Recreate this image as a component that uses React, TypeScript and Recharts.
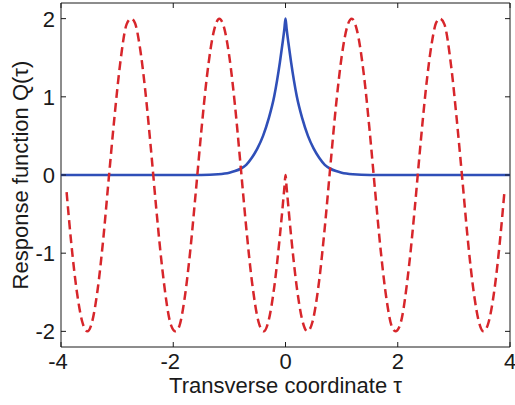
import { LineChart, Line, XAxis, YAxis, ReferenceArea } from "recharts";

// transverse coordinate tau and response Q(tau)
const blueTau = [
  -4, -3, -2, -1.5, -1.2, -1.0, -0.9, -0.8, -0.7, -0.6, -0.5, -0.4, -0.3, -0.2, -0.15, -0.1, -0.05, -0.02,
  0,
  0.02, 0.05, 0.1, 0.15, 0.2, 0.3, 0.4, 0.5, 0.6, 0.7, 0.8, 0.9, 1.0, 1.2, 1.5, 2, 3, 4,
];
const blueQ = [
  0, 0, 0, 0, 0.01, 0.03, 0.05, 0.08, 0.13, 0.22, 0.34, 0.5, 0.72, 1.01, 1.21, 1.44, 1.7, 1.87,
  2.0,
  1.87, 1.7, 1.44, 1.21, 1.01, 0.72, 0.5, 0.34, 0.22, 0.13, 0.08, 0.05, 0.03, 0.01, 0, 0, 0, 0,
];

const redTau = [
  -3.9, -3.82, -3.72, -3.62, -3.53, -3.45, -3.35, -3.25, -3.15, -3.05, -2.95, -2.83, -2.75, -2.68, -2.6,
  -2.5, -2.4, -2.3, -2.2, -2.04, -1.96, -1.89, -1.8, -1.7, -1.6, -1.5, -1.4, -1.27, -1.18, -1.1, -1.0,
  -0.9, -0.8, -0.7, -0.6, -0.48, -0.39, -0.3, -0.2, -0.1, -0.02,
  0,
  0.02, 0.1, 0.2, 0.3, 0.39, 0.48, 0.6, 0.7, 0.8, 0.9, 1.0, 1.1, 1.18, 1.27, 1.4, 1.5, 1.6, 1.7, 1.8,
  1.89, 1.96, 2.04, 2.2, 2.3, 2.4, 2.5, 2.6, 2.68, 2.75, 2.83, 2.95, 3.05, 3.15, 3.25, 3.35, 3.45, 3.53,
  3.62, 3.72, 3.82, 3.9,
];
const redQ = [
  -0.22, -0.85, -1.48, -1.88, -2.0, -1.89, -1.48, -0.84, -0.05, 0.72, 1.4, 1.93, 2.0, 1.94, 1.66,
  1.09, 0.35, -0.45, -1.17, -1.92, -2.0, -1.93, -1.59, -0.99, -0.23, 0.56, 1.26, 1.86, 2.0, 1.9, 1.51,
  0.89, 0.12, -0.67, -1.35, -1.88, -2.0, -1.86, -1.43, -0.78, -0.16,
  0,
  -0.16, -0.78, -1.43, -1.86, -2.0, -1.88, -1.35, -0.67, 0.12, 0.89, 1.51, 1.9, 2.0, 1.86, 1.26, 0.56, -0.23, -0.99, -1.59,
  -1.93, -2.0, -1.92, -1.17, -0.45, 0.35, 1.09, 1.66, 1.94, 2.0, 1.93, 1.4, 0.72, -0.05, -0.84, -1.48, -1.89, -2.0,
  -1.88, -1.48, -0.85, -0.22,
];

const xTicks = [-4, -2, 0, 2, 4];
const yTicks = [-2, -1, 0, 1, 2];

const blueData = blueTau.map((t, i) => ({ t, q: blueQ[i] }));
const redData = redTau.map((t, i) => ({ t, q: redQ[i] }));

const W = 515;
const H = 405;
const X_AXIS_H = 50;
const Y_AXIS_W = 50;
const M = { top: 3, right: 5, bottom: 58 - X_AXIS_H, left: 61 - Y_AXIS_W };
const PLOT_TOP = 3;
const PLOT_RIGHT = W - 5;
const FONT = '"Liberation Sans", Arial, sans-serif';
const INK = "#1a1a1a";

function XTick({ x, y, payload }: any) {
  const v = payload.value;
  return (
    <g>
      <line x1={x} y1={y} x2={x} y2={y - 5} stroke={INK} />
      <line x1={x} y1={PLOT_TOP} x2={x} y2={PLOT_TOP + 5} stroke={INK} />
      <text x={x} y={y + 22} dx={v < 0 ? -3 : 0} textAnchor="middle" fontSize={22} fontFamily={FONT} fill={INK}>
        {v}
      </text>
    </g>
  );
}

function YTick({ x, y, payload }: any) {
  return (
    <g>
      <line x1={x} y1={y} x2={x + 5} y2={y} stroke={INK} />
      <line x1={PLOT_RIGHT} y1={y} x2={PLOT_RIGHT - 5} y2={y} stroke={INK} />
      <text x={x - 6} y={y} dy="0.36em" textAnchor="end" fontSize={22} fontFamily={FONT} fill={INK}>
        {payload.value}
      </text>
    </g>
  );
}

export default function App() {
  return (
    <div style={{ position: "absolute", left: 0, top: 0, background: "#fff" }}>
      <LineChart width={W} height={H} margin={M}>
        <XAxis
          dataKey="t"
          type="number"
          domain={[-4, 4]}
          ticks={xTicks}
          allowDataOverflow
          height={X_AXIS_H}
          tickSize={0}
          tickMargin={0}
          tickLine={false}
          axisLine={false}
          tick={XTick}
          label={{
            content: () => (
              <text x={285.5} y={393} textAnchor="middle" fontSize={22} fontFamily={FONT} fill={INK}>
                Transverse coordinate τ
              </text>
            ),
          }}
        />
        <YAxis
          type="number"
          domain={[-2.2, 2.2]}
          ticks={yTicks}
          allowDataOverflow
          width={Y_AXIS_W}
          tickSize={0}
          tickMargin={0}
          tickLine={false}
          axisLine={false}
          tick={YTick}
          label={{
            content: () => (
              <text
                x={20}
                y={175}
                transform="rotate(-90 20 175)"
                textAnchor="middle"
                dominantBaseline="central"
                fontSize={22}
                fontFamily={FONT}
                fill={INK}
              >
                Response function Q(τ)
              </text>
            ),
          }}
        />
        <ReferenceArea x1={-4} x2={4} y1={-2.2} y2={2.2} fill="none" stroke={INK} strokeWidth={1} ifOverflow="visible" />
        <Line
          data={blueData}
          dataKey="q"
          type="monotone"
          stroke="#2f4fb8"
          strokeWidth={2.6}
          dot={false}
          activeDot={false}
          isAnimationActive={false}
        />
        <Line
          data={redData}
          dataKey="q"
          type="monotone"
          stroke="#d7262b"
          strokeWidth={2.5}
          strokeDasharray="9 5"
          dot={false}
          activeDot={false}
          isAnimationActive={false}
        />
      </LineChart>
    </div>
  );
}
